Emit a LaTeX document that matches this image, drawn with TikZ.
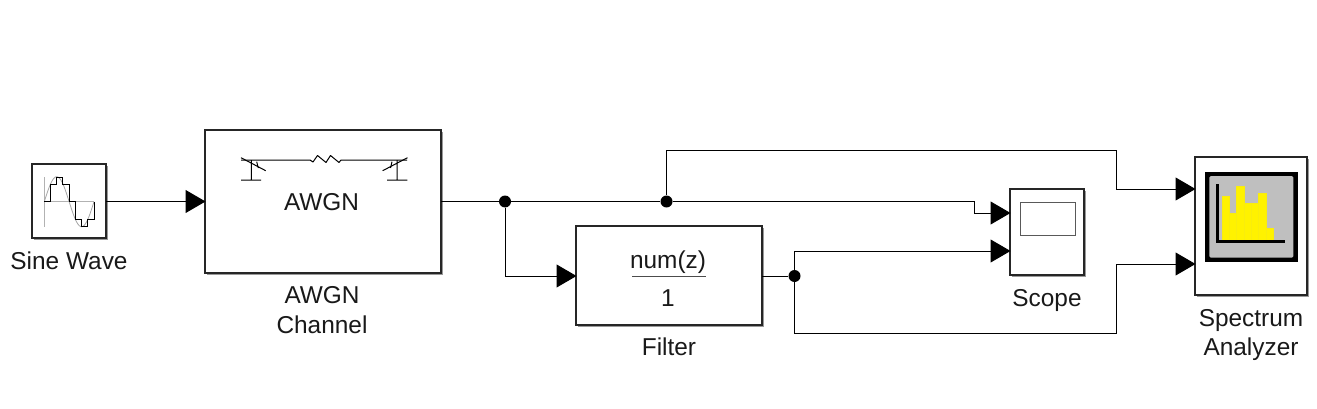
\documentclass[tikz,border=0pt]{standalone}
\usepackage{fontspec}
\setmainfont{Liberation Sans}
\usetikzlibrary{arrows.meta,shadows,calc}
\tikzset{
  blockbox/.style={draw=black!85,line width=1.7pt,fill=white,inner sep=0pt,
    drop shadow={shadow xshift=1.5pt,shadow yshift=-2pt,fill=black!50,opacity=.8}},
  dotj/.style={circle,fill=black,inner sep=0pt,minimum size=12pt},
  wire/.style={draw=black,line width=1pt},
  arrowwire/.style={wire,-{Triangle[length=20pt,width=23pt]},shorten >=-.5pt},
  lbl/.style={font=\fontsize{24.4}{29.5}\selectfont,inner sep=0pt,align=center,text=black!90},
  gicon/.style={draw=black,line width=1pt},
  ybar/.style={fill=yellow,draw=yellow!95!gray,line width=.2pt},
}
\definecolor{scopegray}{gray}{.75}
\begin{document}
\begin{tikzpicture}[x=1pt,y=-1pt]
\fill[white] (0,0) rectangle (1317,409);
\useasboundingbox (0,0) rectangle (1317,409);

% blocks
\node[blockbox,line width=2pt,minimum width=74pt,minimum height=74pt] (sine) at (69,201) {};
\node[blockbox,minimum width=236pt,minimum height=143pt] (awgn) at (323,201.5) {};
\node[blockbox,minimum width=186pt,minimum height=99pt] (filter) at (669,275.5) {};
\node[blockbox,minimum width=74pt,minimum height=86pt] (scope) at (1047,232) {};
\node[blockbox,minimum width=112pt,minimum height=138pt] (spec) at (1251,226) {};

% block texts
\node[lbl] (awgntext) at (321.5,202) {AWGN};
\node[lbl] (numtext) at (668,262) {num(z)};
\node[lbl] (dentext) at (668,298) {1};
\coordinate (fracl) at (632,276.7);
\coordinate (fracr) at (706,276.7);
\draw[draw=black!70,line width=1pt] (fracl) -- (fracr);

% labels
\node[lbl] (sinelab) at (69,261) {Sine Wave};
\node[lbl] (awgnlab) at (322,310) {AWGN\\Channel};
\node[lbl] (filterlab) at (669,347) {Filter};
\node[lbl] (scopelab) at (1047,300.5) {Scope};
\node[lbl] (speclab) at (1251,335) {Spectrum\\Analyzer};

% sine icon
\draw[black!30,line width=.8pt] (44.3,177) -- (44.3,227);
\draw[black!30,line width=.8pt] (44.3,201.7) -- (94,201.7);
\draw[black!35,line width=.8pt] plot[domain=0:360,samples=60] ({44.3+\x/360*49.7},{201.7-25*sin(\x)});
\draw[black,line width=1pt] (44.3,201.7) -- (50.7,201.7) -- (50.7,184.3) -- (56.7,184.3) -- (56.7,177.3) -- (62.7,177.3) -- (62.7,184.3) -- (69,184.3) -- (69,201.7) -- (75.3,201.7) -- (75.3,219.3) -- (81.3,219.3) -- (81.3,226.7) -- (87.7,226.7) -- (87.7,219.3) -- (94,219.3) -- (94,201.7);

% AWGN icon
\draw[gicon,line join=round] (241,160) -- (310,160) -- (313,162) -- (317.5,155.5) -- (326,162.5) -- (330.5,155.5) -- (339,162.5) -- (341,160) -- (407,160);
\draw[gicon] (241,157.7) -- (265.7,170.7) (251.3,160) -- (251.3,180) (241,180) -- (261,180) (256.7,161.7) -- (258.3,168);
\draw[gicon] (407.5,157.7) -- (382.7,170.7) (397,160) -- (397,180) (387,180) -- (407.3,180) (392,161.7) -- (390.5,168);

% scope icon
\draw[draw=black!65,line width=1.2pt,fill=white] (1020.3,202.7) rectangle (1075.3,235.3);

% spectrum icon
\fill[black] (1205,171.7) rectangle (1297.7,261.7);
\fill[scopegray,rounded corners=1.5pt] (1209.3,176) rectangle (1293.3,257.7);
\path[ybar] (1221.7,196) rectangle (1229,240.5);
\path[ybar] (1229,213.3) rectangle (1236.3,240.5);
\path[ybar] (1236.3,186) rectangle (1243.7,240.5);
\path[ybar] (1243.7,203.3) rectangle (1251,240.5);
\path[ybar] (1251,203.3) rectangle (1258.3,240.5);
\path[ybar] (1258.3,193.3) rectangle (1266,240.5);
\path[ybar] (1266,228.3) rectangle (1273.3,240.5);
\draw[black,line width=3pt] (1217.7,184.3) -- (1217.7,241.8) -- (1285,241.8);

% junctions
\node[dotj] (j1) at (505,201.5) {};
\node[dotj] (j2) at (666.5,201.5) {};
\node[dotj] (j3) at (794.5,276) {};

% ports
\coordinate (awgnin) at (205,201.5);
\coordinate (filterin) at (576,276);
\coordinate (filterout) at (762,276);
\coordinate (scopein1) at (1010,213);
\coordinate (scopein2) at (1010,251);
\coordinate (specin1) at (1195,189);
\coordinate (specin2) at (1195,264);
\coordinate (sineout) at (106,201.5);
\coordinate (awgnout) at (441,201.5);

% connectors
\draw[arrowwire] (sineout) -- (awgnin);
\draw[wire] (awgnout) -- (j1);
\draw[wire] (j1) -- (j2);
\draw[arrowwire] (j2) -- (974,201.5) -- (974,213) -- (scopein1);
\draw[arrowwire] (j1) -- (505,276) -- (filterin);
\draw[arrowwire] (j2) -- (666.5,151) -- (1116,151) -- (1116,189) -- (specin1);
\draw[wire] (filterout) -- (j3);
\draw[arrowwire] (j3) -- (794.5,251) -- (scopein2);
\draw[arrowwire] (j3) -- (794.5,333) -- (1116,333) -- (1116,264) -- (specin2);
\end{tikzpicture}
\end{document}
